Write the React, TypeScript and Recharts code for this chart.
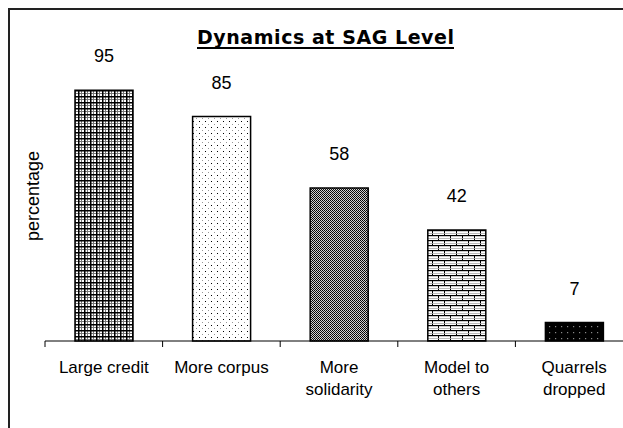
import React from 'react';
import { BarChart, Bar, XAxis, YAxis, Cell, LabelList } from 'recharts';

const categories = ['Large credit', 'More corpus', 'More solidarity', 'Model to others', 'Quarrels dropped'];
const tickLines = [['Large credit'], ['More corpus'], ['More', 'solidarity'], ['Model to', 'others'], ['Quarrels', 'dropped']];
const values = [95, 85, 58, 42, 7];
const patternIds = ['pGrid', 'pDots', 'pChecker', 'pBrick', 'pDark'];

const data = categories.map((name, i) => ({ name, value: values[i] }));

const FONT = '"Liberation Sans", Arial, sans-serif';

const CategoryTick = (props: any) => {
  const { x, y, payload } = props;
  const lines = tickLines[payload.index] || [payload.value];
  const off = payload.offset ?? 0;
  return (
    <g>
      <line x1={x - off} x2={x - off} y1={y} y2={y + 6} stroke="#000" strokeWidth={1} />
      {lines.map((l: string, i: number) => (
        <text key={i} x={x} y={y + 32 + i * 22} textAnchor="middle" fontSize={17} fontFamily={FONT} fill="#000">
          {l}
        </text>
      ))}
    </g>
  );
};

const ValueLabel = (props: any) => {
  const { x, y, width, value } = props;
  return (
    <text x={x + width / 2} y={y - 28} textAnchor="middle" fontSize={18} fontFamily={FONT} fill="#000">
      {value}
    </text>
  );
};

export default function App() {
  return (
    <div style={{ position: 'absolute', left: 0, top: 0, width: 623, height: 428, overflow: 'hidden', background: '#fff' }}>
      <div style={{ position: 'absolute', left: 8, top: 8, width: 700, height: 500, border: '2px solid #222' }} />
      <div style={{ position: 'absolute', left: 0, top: 0 }}>
        <BarChart width={633} height={428} data={data} margin={{ top: 77, right: 0, bottom: 0, left: 45 }}>
          <defs>
            <pattern id="pGrid" width={6} height={6} patternUnits="userSpaceOnUse">
              <rect width={6} height={6} fill="#fff" />
              <rect x={3} y={0} width={1} height={6} fill="#777" />
              <rect x={0} y={3} width={6} height={1} fill="#777" />
              <rect x={0} y={0} width={1.5} height={6} fill="#000" />
              <rect x={0} y={0} width={6} height={1.5} fill="#000" />
            </pattern>
            <pattern id="pDots" width={6} height={6} patternUnits="userSpaceOnUse">
              <rect width={6} height={6} fill="#fff" />
              <rect x={1} y={1} width={1} height={1} fill="#000" />
              <rect x={4} y={4} width={1} height={1} fill="#999" />
            </pattern>
            <pattern id="pChecker" width={2} height={2} patternUnits="userSpaceOnUse">
              <rect width={2} height={2} fill="#d0d0d0" />
              <rect x={0} y={0} width={1} height={1} fill="#000" />
              <rect x={1} y={1} width={1} height={1} fill="#111" />
            </pattern>
            <pattern id="pBrick" width={12} height={10} patternUnits="userSpaceOnUse">
              <rect width={12} height={10} fill="#fff" />
              <rect x={0} y={0} width={12} height={1.2} fill="#000" />
              <rect x={0} y={5} width={12} height={1.2} fill="#000" />
              <rect x={0} y={0} width={1} height={5} fill="#000" />
              <rect x={6} y={5} width={1} height={5} fill="#000" />
              <rect x={0} y={3} width={12} height={0.8} fill="#aaa" />
              <rect x={0} y={8} width={12} height={0.8} fill="#aaa" />
            </pattern>
            <pattern id="pDark" width={6} height={6} patternUnits="userSpaceOnUse">
              <rect width={6} height={6} fill="#000" />
              <rect x={3} y={2} width={1.2} height={1.2} fill="#888" />
            </pattern>
          </defs>
          <XAxis
            dataKey="name"
            interval={0}
            height={87}
            tickSize={0}
            tickMargin={0}
            tickLine={false}
            axisLine={{ stroke: '#000', strokeWidth: 1 }}
            tick={<CategoryTick />}
          />
          <YAxis hide domain={[0, 100]} />
          <Bar dataKey="value" barSize={58} stroke="#000" strokeWidth={1.5} isAnimationActive={false}>
            {data.map((d, i) => (
              <Cell key={d.name} fill={`url(#${patternIds[i]})`} />
            ))}
            <LabelList dataKey="value" content={<ValueLabel />} />
          </Bar>
        </BarChart>
      </div>
      <svg width={623} height={428} style={{ position: 'absolute', left: 0, top: 0, pointerEvents: 'none' }}>
        <text x={325.5} y={44} textAnchor="middle" fontSize={19} fontWeight="bold" fontFamily='"DejaVu Sans", sans-serif' textLength={257} lengthAdjust="spacing" fill="#000">
          Dynamics at SAG Level
        </text>
        <rect x={197} y={47} width={257} height={2} fill="#000" />
        <text x={0} y={0} transform="translate(39,196) rotate(-90)" textAnchor="middle" fontSize={18} fontFamily={FONT} fill="#000">
          percentage
        </text>
      </svg>
    </div>
  );
}
